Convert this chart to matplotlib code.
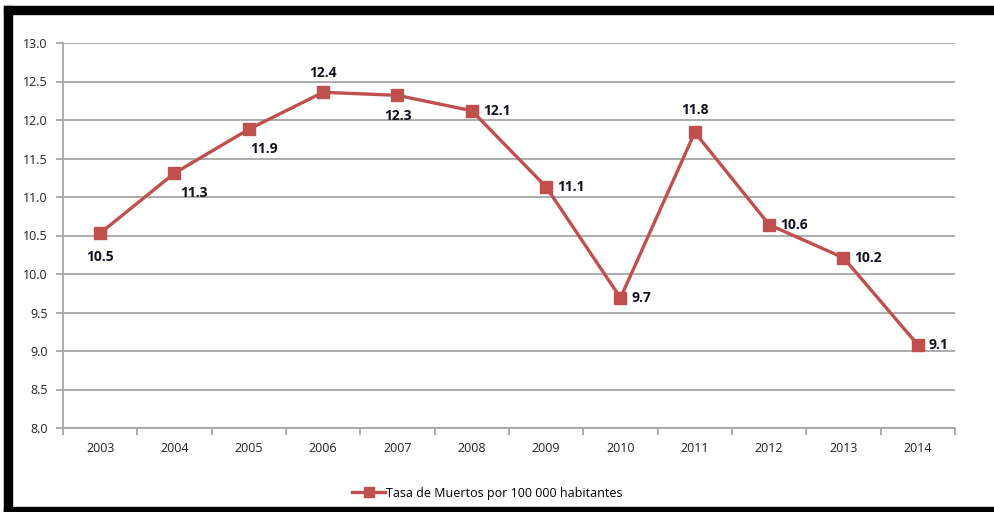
import matplotlib
matplotlib.use('Agg')
from matplotlib import pyplot as plt
from matplotlib.patches import Rectangle
from matplotlib.ticker import FixedLocator, NullFormatter
import numpy as np

years = ['2003', '2004', '2005', '2006', '2007', '2008',
         '2009', '2010', '2011', '2012', '2013', '2014']
tasa = [10.53, 11.31, 11.88, 12.36, 12.32, 12.12,
        11.13, 9.69, 11.84, 10.64, 10.21, 9.08]
# where each value label sits relative to its point (dx, dy in points)
label_offsets = [(0, -17), (14, -14), (11, -14), (0, 14), (0, -15), (18, 0),
                 (18, 0), (15, 0), (0, 16), (18, 0), (18, 0), (15, 0)]

red = '#C0504D'
grey = '#A6A6A6'
plt.rcParams['font.family'] = ['Open Sans', 'DejaVu Sans']

fig = plt.figure(figsize=(9.95, 5.12), dpi=100)
ax = fig.add_axes([63 / 995, 1 - 428 / 512, 892 / 995, 385 / 512])

x = np.arange(len(years))
ax.plot(x, tasa, color=red, lw=2.4, marker='s', ms=8.5, mec=red, mfc=red,
        label='Tasa de Muertos por 100 000 habitantes', zorder=3)

for xi, v, (dx, dy) in zip(x, tasa, label_offsets):
    ax.annotate(f'{v:.1f}', (xi, v), xytext=(dx, dy), textcoords='offset points',
                ha='center', va='center', fontsize=10, fontweight='bold',
                color='#111122')

ax.set_xlim(-0.5, len(years) - 0.5)
ax.set_ylim(8.0, 13.0)
ax.set_yticks(np.arange(8.0, 13.01, 0.5))
ax.set_yticklabels([f'{t:.1f}' for t in np.arange(8.0, 13.01, 0.5)])
ax.set_xticks(x)
ax.set_xticklabels(years)
ax.xaxis.set_minor_locator(FixedLocator(np.arange(-0.5, len(years), 1.0)))
ax.xaxis.set_minor_formatter(NullFormatter())
ax.tick_params(axis='x', which='major', length=0, pad=10, labelsize=9, colors='#222222')
ax.tick_params(axis='x', which='minor', length=5, width=1.3, color=grey)
ax.tick_params(axis='y', length=5, width=1.3, color=grey, labelsize=9,
               labelcolor='#222222', pad=6)

ax.grid(axis='y', color=grey, lw=1.3)
ax.set_axisbelow(True)
for side in ['top', 'right']:
    ax.spines[side].set_visible(False)
for side in ['left', 'bottom']:
    ax.spines[side].set_color(grey)
    ax.spines[side].set_linewidth(1.3)

leg = fig.legend(loc='center', bbox_to_anchor=(0.49, 1 - 493 / 512), frameon=False,
                 fontsize=9, handlelength=2.6, handletextpad=0.1, markerscale=0.85)

# black frame around the chart (no right side)
W, H = 995, 512
frame = [(4, 6, 991, 8), (4, 6, 8, 506), (4, 507, 991, 5)]
for x0, y0, w, h in frame:
    fig.patches.append(Rectangle((x0 / W, 1 - (y0 + h) / H), w / W, h / H,
                                 transform=fig.transFigure, color='black', zorder=10))

fig.savefig('out.png', dpi=100)
